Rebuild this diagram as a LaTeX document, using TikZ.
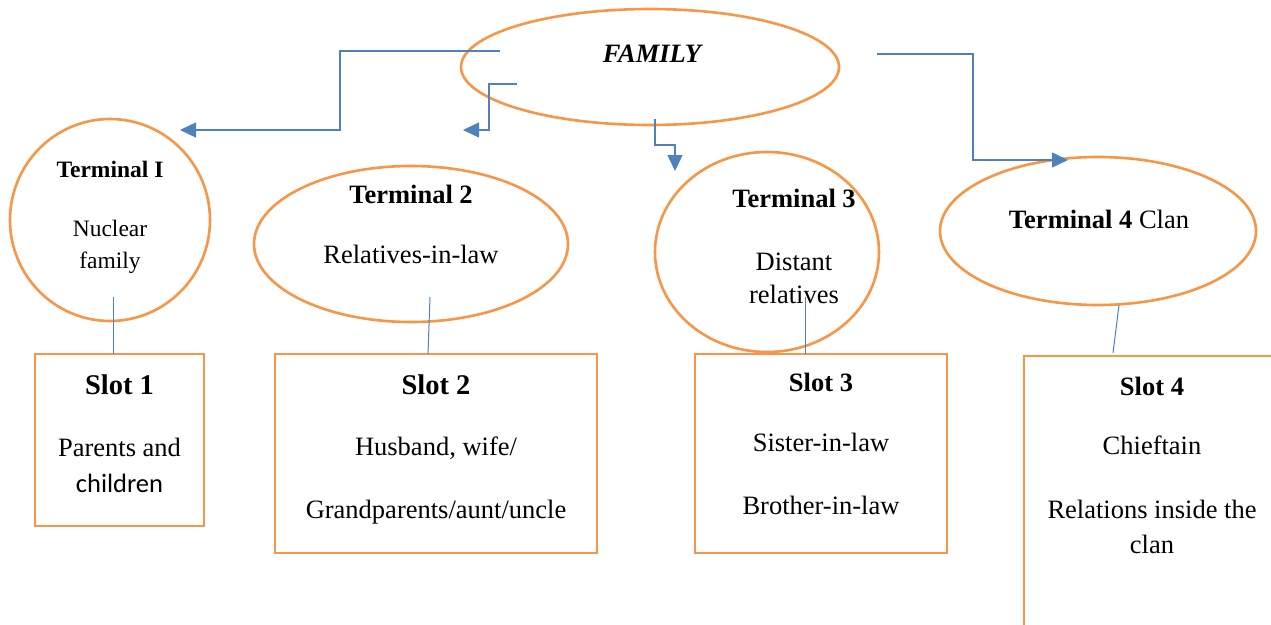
\documentclass[tikz,border=0pt]{standalone}
\usepackage{fontspec}
\setmainfont{Liberation Serif}
\newfontfamily\calibri{Carlito}
\usetikzlibrary{arrows.meta,shapes.geometric}
\definecolor{ringorange}{RGB}{247,150,70}
\definecolor{linkblue}{RGB}{79,129,189}
\tikzstyle{terminal}=[ellipse,draw=ringorange,line width=2.6pt,inner sep=0pt]
\tikzstyle{slot}=[rectangle,draw=ringorange,line width=2.6pt,inner sep=0pt]
\tikzstyle{link}=[draw=linkblue,line width=1.4pt]
\tikzstyle{arrowlink}=[link,-{Triangle[length=16pt,width=15pt]}]
\tikzstyle{txt}=[anchor=base,inner sep=0pt,font=\fontsize{26.5}{32}\selectfont]
\tikzstyle{small txt}=[txt,font=\fontsize{23.5}{28}\selectfont]
\tikzstyle{title}=[txt,font=\fontsize{28.5}{34}\selectfont\bfseries]

\begin{document}
\begin{tikzpicture}[x=1pt,y=-1pt]
    \clip (0,0) rectangle (1271,624);
    \fill[white] (0,0) rectangle (1271,624);

    % First the ellipses
    \node[terminal,minimum width=378pt,minimum height=116pt] (family) at (650,67) {};
    \node[terminal,minimum width=200pt,minimum height=202pt] (term1) at (110,220) {};
    \node[terminal,minimum width=314pt,minimum height=156pt] (term2) at (411,244) {};
    \node[terminal,minimum width=224pt,minimum height=200pt] (term3) at (767,252) {};
    \node[terminal,minimum width=316pt,minimum height=148pt] (term4) at (1098,231) {};

    % then the slot boxes
    \node[slot,minimum width=169pt,minimum height=172pt] (slot1) at (119.5,440) {};
    \node[slot,minimum width=322pt,minimum height=199pt] (slot2) at (436,453.5) {};
    \node[slot,minimum width=252pt,minimum height=199pt] (slot3) at (821,453.5) {};
    \node[slot,minimum width=276pt,minimum height=304pt] (slot4) at (1162,508) {};

    % texts
    \node[txt,font=\fontsize{26.5}{32}\selectfont\bfseries\itshape] (famtext) at (652,62) {FAMILY};
    \node[small txt,font=\fontsize{23.5}{28}\selectfont\bfseries] (t1head) at (110,177) {Terminal I};
    \node[small txt] (t1a) at (110,236) {Nuclear};
    \node[small txt] (t1b) at (110,268) {family};
    \node[txt,font=\fontsize{26.5}{32}\selectfont\bfseries] (t2head) at (411,203) {Terminal 2};
    \node[txt] (t2a) at (411,263) {Relatives-in-law};
    \node[txt,font=\fontsize{26.5}{32}\selectfont\bfseries] (t3head) at (794,207) {Terminal 3};
    \node[txt] (t3a) at (794,270) {Distant};
    \node[txt] (t3b) at (794,303) {relatives};
    \node[txt] (t4head) at (1099,228) {\textbf{Terminal 4} Clan};

    \node[title] (s1head) at (119.5,394) {Slot 1};
    \node[txt] (s1a) at (119.5,456) {Parents and};
    \node[txt,font=\fontsize{26.5}{32}\selectfont\calibri] (s1b) at (119.5,492) {children};
    \node[title] (s2head) at (436,394) {Slot 2};
    \node[txt] (s2a) at (436,455) {Husband, wife/};
    \node[txt] (s2b) at (436,518) {Grandparents/aunt/uncle};
    \node[txt,font=\fontsize{26.5}{32}\selectfont\bfseries] (s3head) at (821,391) {Slot 3};
    \node[txt] (s3a) at (821,451) {Sister-in-law};
    \node[txt] (s3b) at (821,514) {Brother-in-law};
    \node[txt,font=\fontsize{26.5}{32}\selectfont\bfseries] (s4head) at (1152,395) {Slot 4};
    \node[txt] (s4a) at (1152,454) {Chieftain};
    \node[txt] (s4b) at (1152,518) {Relations inside the};
    \node[txt] (s4c) at (1152,553) {clan};

    % ends of the connectors
    \coordinate (f1) at (500,51);  \coordinate (b1) at (340,130); \coordinate (e1) at (180,130);
    \coordinate (f2) at (517,84);  \coordinate (b2) at (489,130); \coordinate (e2) at (463,130);
    \coordinate (f3) at (655,119); \coordinate (b3) at (675,145); \coordinate (e3) at (675,171);
    \coordinate (f4) at (877,54);  \coordinate (b4) at (973,160); \coordinate (e4) at (1068,160);
    \coordinate (t1foot) at (113,297);  \coordinate (s1top) at (113,354);
    \coordinate (t2foot) at (430,297);  \coordinate (s2top) at (428,354);
    \coordinate (t3foot) at (805,297);  \coordinate (s3top) at (805,354);
    \coordinate (t4foot) at (1119,305); \coordinate (s4top) at (1113,353);

    % Connect family with the terminals
    \draw[arrowlink] (f1) -| (b1) -- (e1);
    \draw[arrowlink] (f2) -| (b2) -- (e2);
    \draw[arrowlink] (f3) |- (b3) -- (e3);
    \draw[arrowlink] (f4) -| (b4) -- (e4);

    % Connect terminals with slots
    \foreach \source/\dest in {t1foot/s1top, t2foot/s2top, t3foot/s3top, t4foot/s4top}
        \path[link,line width=1pt] (\source) -- (\dest);
\end{tikzpicture}
\end{document}
